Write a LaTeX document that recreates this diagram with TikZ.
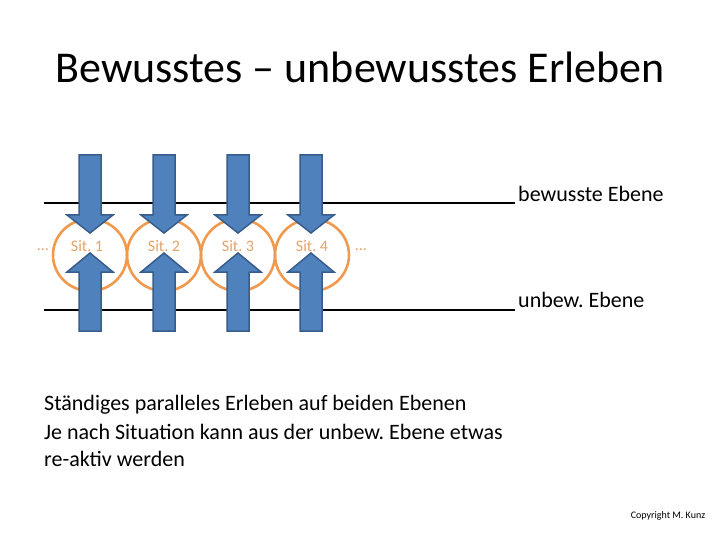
\documentclass[tikz,border=0pt]{standalone}
\usepackage{fontspec}
\setmainfont{Carlito}
\frenchspacing
\definecolor{arrowfill}{HTML}{4F81BD}
\definecolor{arrowline}{HTML}{385D8A}
\definecolor{ringcol}{HTML}{F09A4F}
\definecolor{sitcol}{HTML}{E6A36A}
\begin{document}
\begin{tikzpicture}[x=1pt,y=-1pt,
  ring/.style={draw=ringcol,line width=2.6pt},
  levelline/.style={draw=black,line width=1.6pt},
  bigarrow/.style={fill=arrowfill,draw=arrowline,line width=1.5pt,line join=miter},
  sitlabel/.style={text=sitcol,font=\fontsize{16}{18}\selectfont,inner sep=0pt},
  dots/.style={text=sitcol,font=\fontsize{16}{18}\selectfont,inner sep=0pt},
  levellabel/.style={anchor=west,inner sep=0pt,font=\fontsize{22}{26}\selectfont},
  bodytext/.style={anchor=west,inner sep=0pt,font=\fontsize{22}{26}\selectfont}]
\useasboundingbox[fill=white] (0,0) rectangle (720,540);
\node[inner sep=0pt,font=\fontsize{44}{52}\selectfont] (title) at (360,67) {Bewusstes – unbewusstes Erleben};
% levels
\coordinate (tl) at (44,203); \coordinate (tr) at (515,203);
\coordinate (bl) at (44,310); \coordinate (br) at (515,310);
\draw[levelline] (tl) -- (tr);
\draw[levelline] (bl) -- (br);
\node[levellabel] (bew) at (518,194) {bewusste Ebene};
\node[levellabel] (unbew) at (518,300) {unbew. Ebene};
% rings
\foreach \i/\cx/\tx in {1/90/87,2/164/164,3/238/238,4/312/312}{
  \draw[ring] (\cx,255) circle[x radius=37pt,y radius=36pt];
  \node[sitlabel] (sit\i) at (\tx,246) {Sit. \i};
}
\node[dots] (dl) at (43,250) {…};
\node[dots] (dr) at (361,250) {…};
% arrows
\foreach \cx in {90,164,238,311}{
  \draw[bigarrow] (\cx-11,155) -- (\cx+11,155) -- (\cx+11,215) -- (\cx+23,215) -- (\cx,233) -- (\cx-23,215) -- (\cx-11,215) -- cycle;
  \draw[bigarrow] (\cx-11,331) -- (\cx+11,331) -- (\cx+11,272) -- (\cx+23,272) -- (\cx,253) -- (\cx-23,272) -- (\cx-11,272) -- cycle;
}
% body
\node[bodytext] (l1) at (44,405) {Ständiges paralleles Erleben auf beiden Ebenen};
\node[bodytext] (l2) at (44,432) {Je nach Situation kann aus der unbew. Ebene etwas};
\node[bodytext] (l3) at (44,459) {re-aktiv werden};
\node[inner sep=0pt,font=\fontsize{10}{12}\selectfont] (copy) at (668,516) {Copyright M. Kunz};
\end{tikzpicture}
\end{document}
